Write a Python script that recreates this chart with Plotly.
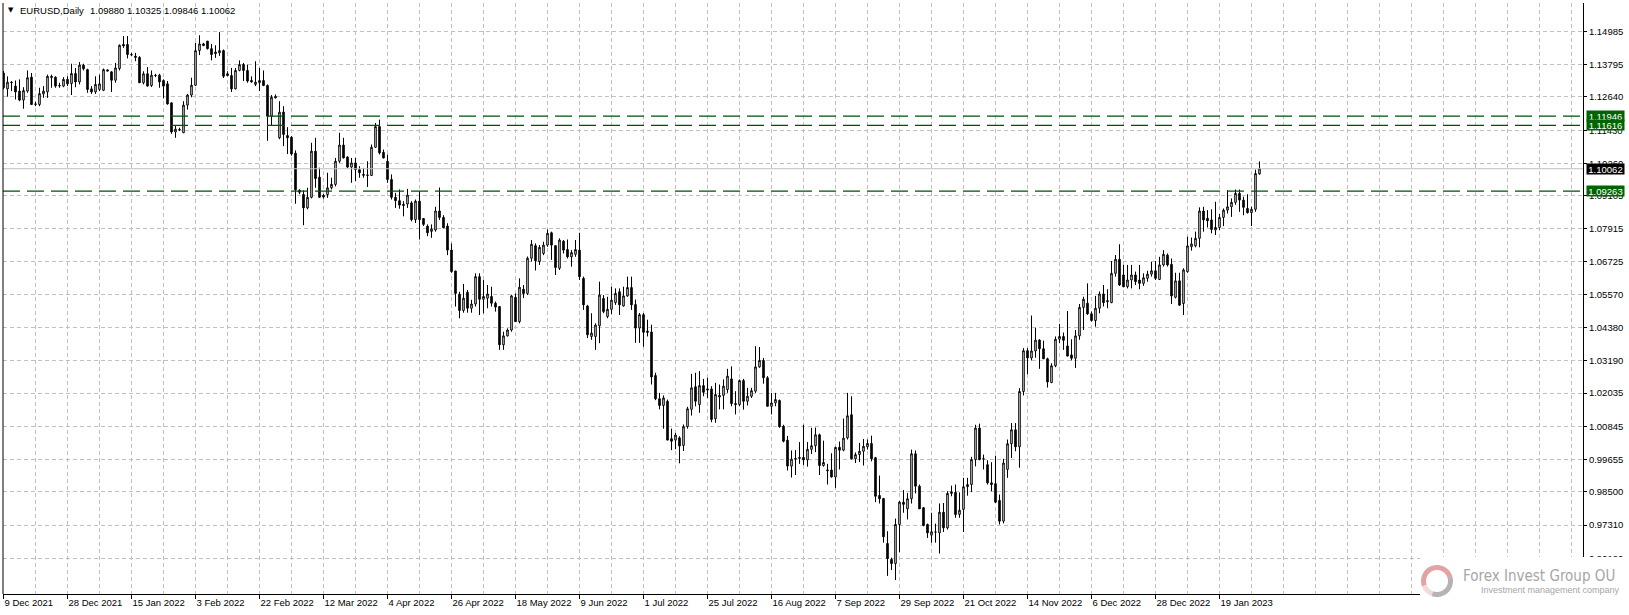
import math
import plotly.graph_objects as go

# ---------------- data (EURUSD, Daily) ----------------
open_ = [
1.1349,1.1292,1.1316,1.1302,1.1284,1.1252,1.1284,1.1334,1.1238,1.1236,
1.1274,1.1281,1.1332,1.1334,1.1304,1.1302,1.1326,1.1311,1.1347,1.1317,
1.1377,1.1361,1.1292,1.1281,1.1290,1.1287,1.1360,1.1353,1.1323,1.1365,
1.1451,1.1451,1.1415,1.1409,1.1405,1.1314,1.1346,1.1304,1.1341,1.1341,
1.1322,1.1310,1.1242,1.1138,1.1147,1.1135,1.1234,1.1270,1.1305,1.1429,
1.1453,1.1463,1.1436,1.1418,1.1421,1.1429,1.1346,1.1340,1.1292,1.1358,
1.1379,1.1358,1.1322,1.1308,1.1314,1.1322,1.1304,1.1194,1.1265,1.1117,
1.1209,1.1125,1.1119,1.1062,1.0929,1.0914,1.0866,1.0904,1.1069,1.0976,
1.0911,1.0914,1.0938,1.0950,1.1033,1.1091,1.1048,1.1012,1.1027,1.1003,
1.0986,1.0982,1.0982,1.1083,1.1157,1.1065,1.1033,1.0968,1.0904,1.0892,
1.0879,1.0880,1.0884,1.0824,1.0890,1.0828,1.0801,1.0782,1.0787,1.0855,
1.0832,1.0801,1.0715,1.0640,1.0557,1.0499,1.0564,1.0507,1.0522,1.0620,
1.0539,1.0543,1.0549,1.0525,1.0513,1.0376,1.0408,1.0429,1.0546,1.0459,
1.0575,1.0560,1.0686,1.0731,1.0674,1.0703,1.0733,1.0777,1.0731,1.0650,
1.0747,1.0717,1.0691,1.0700,1.0715,1.0614,1.0515,1.0406,1.0406,1.0444,
1.0542,1.0477,1.0503,1.0527,1.0566,1.0515,1.0551,1.0581,1.0520,1.0436,
1.0484,1.0425,1.0422,1.0266,1.0183,1.0159,1.0174,1.0040,1.0035,1.0043,
1.0016,1.0083,1.0145,1.0226,1.0162,1.0230,1.0214,1.0218,1.0111,1.0189,
1.0195,1.0216,1.0254,1.0166,1.0162,1.0248,1.0174,1.0192,1.0210,1.0297,
1.0320,1.0258,1.0156,1.0168,1.0177,1.0085,1.0035,0.9942,0.9967,0.9969,
0.9973,0.9964,1.0002,1.0015,1.0054,0.9944,0.9925,0.9928,0.9903,1.0009,
0.9999,1.0043,1.0126,0.9968,0.9983,0.9995,1.0011,1.0023,0.9972,0.9837,
0.9826,0.9665,0.9608,0.9593,0.9733,0.9813,0.9789,0.9825,0.9986,0.9870,
0.9793,0.9733,0.9695,0.9706,0.9703,0.9777,0.9721,0.9844,0.9848,0.9769,
0.9787,0.9868,0.9876,0.9965,1.0078,0.9967,0.9947,0.9882,0.9879,0.9819,
0.9745,0.9930,1.0022,1.0072,1.0011,1.0209,1.0355,1.0329,1.0354,1.0393,
1.0362,1.0326,1.0241,1.0301,1.0396,1.0406,1.0372,1.0340,1.0328,1.0408,
1.0510,1.0525,1.0487,1.0463,1.0507,1.0558,1.0530,1.0527,1.0632,1.0682,
1.0626,1.0584,1.0608,1.0626,1.0608,1.0596,1.0614,1.0629,1.0641,1.0610,
1.0662,1.0697,1.0664,1.0546,1.0605,1.0524,1.0638,1.0727,1.0730,1.0757,
1.0855,1.0829,1.0823,1.0787,1.0796,1.0832,1.0858,1.0870,1.0886,1.0918,
1.0894,1.0864,1.0849,1.0861,1.09880]

high = [
1.1356,1.1337,1.1320,1.1322,1.1326,1.1298,1.1358,1.1349,1.1246,1.1296,
1.1302,1.1343,1.1343,1.1337,1.1314,1.1334,1.1337,1.1382,1.1367,1.1388,
1.1382,1.1364,1.1302,1.1337,1.1343,1.1365,1.1362,1.1355,1.1385,1.1451,
1.1481,1.1481,1.1421,1.1421,1.1409,1.1355,1.1370,1.1358,1.1346,1.1346,
1.1326,1.1320,1.1243,1.1162,1.1153,1.1248,1.1274,1.1332,1.1457,1.1484,
1.1457,1.1463,1.1453,1.1448,1.1495,1.1433,1.1355,1.1367,1.1367,1.1394,
1.1385,1.1379,1.1337,1.1391,1.1367,1.1358,1.1308,1.1270,1.1272,1.1248,
1.1230,1.1155,1.1123,1.1072,1.0933,1.0929,1.0938,1.1099,1.1117,1.1010,
1.0916,1.0992,1.0974,1.1045,1.1135,1.1117,1.1051,1.1045,1.1045,1.1015,
1.1009,1.1033,1.1093,1.1170,1.1182,1.1075,1.1057,1.0986,1.0920,1.0932,
1.0890,1.0934,1.0890,1.0896,1.0926,1.0830,1.0807,1.0807,1.0870,1.0939,
1.0840,1.0811,1.0739,1.0641,1.0566,1.0594,1.0572,1.0537,1.0632,1.0632,
1.0608,1.0590,1.0584,1.0531,1.0515,1.0423,1.0435,1.0555,1.0560,1.0614,
1.0590,1.0692,1.0751,1.0739,1.0733,1.0745,1.0789,1.0781,1.0733,1.0757,
1.0751,1.0753,1.0715,1.0751,1.0777,1.0620,1.0519,1.0489,1.0453,1.0602,
1.0554,1.0548,1.0584,1.0578,1.0578,1.0584,1.0620,1.0620,1.0538,1.0490,
1.0490,1.0466,1.0448,1.0276,1.0204,1.0195,1.0180,1.0076,1.0061,1.0049,
1.0091,1.0154,1.0272,1.0276,1.0282,1.0254,1.0258,1.0228,1.0240,1.0234,
1.0252,1.0290,1.0299,1.0210,1.0252,1.0254,1.0222,1.0222,1.0371,1.0368,
1.0329,1.0264,1.0204,1.0204,1.0180,1.0090,1.0050,0.9998,0.9999,1.0028,
1.0090,1.0028,1.0079,1.0080,1.0058,1.0033,0.9950,0.9988,1.0011,1.0030,
1.0112,1.0204,1.0192,0.9991,1.0025,1.0039,1.0037,1.0051,0.9975,0.9908,
0.9828,0.9709,0.9614,0.9754,0.9817,0.9856,0.9846,1.0001,0.9998,0.9876,
0.9796,0.9736,0.9775,0.9736,0.9808,0.9810,0.9852,0.9872,0.9876,0.9848,
0.9900,0.9900,0.9975,1.0090,1.0094,0.9983,0.9963,0.9956,0.9979,0.9840,
0.9968,1.0037,1.0096,1.0096,1.0221,1.0364,1.0364,1.0481,1.0437,1.0396,
1.0391,1.0330,1.0310,1.0406,1.0451,1.0420,1.0497,1.0396,1.0429,1.0522,
1.0548,1.0596,1.0495,1.0551,1.0567,1.0590,1.0575,1.0676,1.0697,1.0736,
1.0662,1.0662,1.0662,1.0638,1.0662,1.0632,1.0641,1.0673,1.0676,1.0691,
1.0715,1.0703,1.0685,1.0634,1.0634,1.0650,1.0763,1.0760,1.0781,1.0868,
1.0870,1.0858,1.0861,1.0888,1.0844,1.0864,1.0930,1.0900,1.0932,1.0932,
1.0906,1.0915,1.0870,1.1003,1.10325]

low = [
1.1290,1.1264,1.1284,1.1254,1.1248,1.1221,1.1278,1.1236,1.1230,1.1230,
1.1260,1.1260,1.1296,1.1296,1.1296,1.1298,1.1302,1.1270,1.1298,1.1308,
1.1358,1.1278,1.1274,1.1274,1.1284,1.1284,1.1355,1.1281,1.1314,1.1358,
1.1439,1.1401,1.1409,1.1391,1.1313,1.1308,1.1301,1.1299,1.1334,1.1296,
1.1258,1.1236,1.1131,1.1117,1.1141,1.1134,1.1218,1.1262,1.1302,1.1413,
1.1445,1.1433,1.1394,1.1403,1.1410,1.1331,1.1337,1.1281,1.1290,1.1355,
1.1320,1.1314,1.1314,1.1302,1.1284,1.1302,1.1106,1.1162,1.1258,1.1112,
1.1087,1.1059,1.1053,1.0881,1.0915,1.0804,1.0861,1.0900,1.0938,1.0902,
1.0899,1.0902,1.0932,1.0943,1.1027,1.1043,1.1009,1.0956,1.0962,1.0974,
1.0974,1.0941,1.0980,1.1081,1.1057,1.1043,1.0956,1.0896,1.0866,1.0863,
1.0836,1.0866,1.0818,1.0812,1.0753,1.0801,1.0765,1.0759,1.0781,1.0823,
1.0793,1.0697,1.0634,1.0513,1.0471,1.0491,1.0491,1.0491,1.0513,1.0483,
1.0489,1.0507,1.0513,1.0495,1.0358,1.0358,1.0406,1.0423,1.0459,1.0453,
1.0543,1.0554,1.0674,1.0642,1.0662,1.0697,1.0727,1.0680,1.0626,1.0644,
1.0703,1.0685,1.0656,1.0691,1.0608,1.0501,1.0400,1.0394,1.0358,1.0382,
1.0489,1.0471,1.0486,1.0519,1.0483,1.0513,1.0548,1.0501,1.0383,1.0383,
1.0369,1.0406,1.0234,1.0178,1.0145,1.0076,1.0035,0.9999,1.0002,0.9952,
0.9996,1.0076,1.0123,1.0156,1.0133,1.0192,1.0186,1.0099,1.0097,1.0145,
1.0145,1.0204,1.0156,1.0127,1.0156,1.0144,1.0159,1.0186,1.0204,1.0294,
1.0237,1.0156,1.0127,1.0156,1.0079,1.0027,0.9926,0.9901,0.9910,0.9950,
0.9946,0.9940,0.9985,0.9992,0.9910,0.9940,0.9876,0.9901,0.9864,0.9930,
0.9995,1.0037,0.9966,0.9953,0.9956,0.9944,1.0001,0.9959,0.9813,0.9808,
0.9668,0.9549,0.9570,0.9534,0.9634,0.9775,0.9751,0.9808,0.9844,0.9789,
0.9727,0.9685,0.9668,0.9668,0.9629,0.9706,0.9715,0.9834,0.9757,0.9757,
0.9706,0.9836,0.9849,0.9941,0.9963,0.9930,0.9876,0.9852,0.9810,0.9733,
0.9737,0.9900,0.9971,0.9995,0.9936,1.0195,1.0271,1.0320,1.0330,1.0290,
1.0326,1.0223,1.0239,1.0296,1.0382,1.0358,1.0334,1.0320,1.0293,1.0394,
1.0429,1.0483,1.0459,1.0441,1.0489,1.0513,1.0507,1.0525,1.0620,1.0587,
1.0582,1.0578,1.0578,1.0590,1.0575,1.0587,1.0602,1.0620,1.0608,1.0608,
1.0656,1.0656,1.0522,1.0542,1.0515,1.0483,1.0634,1.0713,1.0725,1.0725,
1.0781,1.0796,1.0775,1.0769,1.0787,1.0801,1.0846,1.0834,1.0877,1.0852,
1.0840,1.0846,1.0801,1.0852,1.09846]

close = [
1.1296,1.1316,1.1315,1.1281,1.1252,1.1286,1.1332,1.1236,1.1237,1.1275,
1.1284,1.1337,1.1337,1.1302,1.1303,1.1326,1.1310,1.1347,1.1317,1.1377,
1.1364,1.1290,1.1281,1.1308,1.1310,1.1361,1.1356,1.1323,1.1367,1.1448,
1.1446,1.1415,1.1414,1.1405,1.1314,1.1346,1.1302,1.1341,1.1340,1.1317,
1.1302,1.1238,1.1138,1.1148,1.1146,1.1234,1.1270,1.1305,1.1429,1.1453,
1.1447,1.1436,1.1415,1.1424,1.1429,1.1337,1.1340,1.1292,1.1358,1.1379,
1.1358,1.1320,1.1317,1.1316,1.1322,1.1304,1.1194,1.1262,1.1260,1.1209,
1.1129,1.1117,1.1059,1.0931,1.0922,1.0866,1.0904,1.1069,1.0971,1.0904,
1.0905,1.0938,1.0950,1.1033,1.1091,1.1045,1.1012,1.1027,1.1003,1.0992,
1.0983,1.0984,1.1083,1.1157,1.1063,1.1045,1.0968,1.0904,1.0892,1.0876,
1.0875,1.0912,1.0824,1.0890,1.0824,1.0807,1.0777,1.0790,1.0855,1.0832,
1.0795,1.0715,1.0638,1.0560,1.0499,1.0543,1.0507,1.0522,1.0620,1.0539,
1.0549,1.0558,1.0525,1.0511,1.0376,1.0408,1.0429,1.0551,1.0459,1.0582,
1.0560,1.0686,1.0736,1.0677,1.0725,1.0733,1.0775,1.0733,1.0653,1.0751,
1.0715,1.0691,1.0706,1.0717,1.0620,1.0519,1.0412,1.0418,1.0447,1.0554,
1.0495,1.0503,1.0536,1.0560,1.0519,1.0551,1.0581,1.0519,1.0436,1.0484,
1.0421,1.0421,1.0261,1.0183,1.0159,1.0186,1.0035,1.0031,1.0053,1.0014,
1.0083,1.0147,1.0222,1.0174,1.0230,1.0206,1.0218,1.0109,1.0198,1.0195,
1.0228,1.0264,1.0166,1.0162,1.0248,1.0174,1.0192,1.0212,1.0297,1.0320,
1.0258,1.0156,1.0168,1.0180,1.0083,1.0031,0.9942,0.9967,0.9969,0.9973,
0.9964,1.0002,1.0015,1.0054,0.9944,0.9955,0.9928,0.9903,1.0009,0.9999,
1.0042,1.0122,0.9968,0.9983,0.9995,1.0013,1.0023,0.9968,0.9834,0.9825,
0.9689,0.9611,0.9593,0.9733,0.9813,0.9805,0.9825,0.9986,0.9870,0.9789,
0.9729,0.9703,0.9707,0.9706,0.9777,0.9721,0.9844,0.9850,0.9769,0.9784,
0.9868,0.9876,0.9965,1.0078,0.9965,0.9968,0.9882,0.9876,0.9813,0.9745,
0.9953,1.0022,1.0072,1.0011,1.0209,1.0355,1.0329,1.0354,1.0393,1.0362,
1.0326,1.0243,1.0301,1.0396,1.0406,1.0392,1.0336,1.0328,1.0408,1.0510,
1.0539,1.0487,1.0463,1.0507,1.0558,1.0527,1.0534,1.0632,1.0682,1.0590,
1.0584,1.0608,1.0626,1.0602,1.0596,1.0616,1.0629,1.0641,1.0614,1.0662,
1.0700,1.0662,1.0551,1.0605,1.0518,1.0644,1.0730,1.0737,1.0757,1.0855,
1.0823,1.0820,1.0789,1.0796,1.0832,1.0858,1.0870,1.0886,1.0918,1.0894,
1.0868,1.0849,1.0861,1.0989,1.10062]

date_labels = ["9 Dec 2021", "28 Dec 2021", "15 Jan 2022", "3 Feb 2022", "22 Feb 2022",
               "12 Mar 2022", "4 Apr 2022", "26 Apr 2022", "18 May 2022", "9 Jun 2022",
               "1 Jul 2022", "25 Jul 2022", "16 Aug 2022", "7 Sep 2022", "29 Sep 2022",
               "21 Oct 2022", "14 Nov 2022", "6 Dec 2022", "28 Dec 2022", "19 Jan 2023"]
date_label_bars = [0, 16, 32, 48, 64, 80, 96, 112, 128, 144, 160, 176, 192, 208, 224,
                   240, 256, 272, 288, 304]

price_ticks = [1.14985, 1.13795, 1.12640, 1.11430, 1.10260, 1.09105, 1.07915, 1.06725,
               1.05570, 1.04380, 1.03190, 1.02035, 1.00845, 0.99655, 0.98500, 0.97310,
               0.96120]
level_lines = [1.11946, 1.11616, 1.09263]
current_price = 1.10062
title_values = "1.09880 1.10325 1.09846 1.10062"

assert len(open_) == len(high) == len(low) == len(close)
bars = list(range(len(close)))

# ---------------- geometry helpers ----------------
W, H = 1629, 615
ML, MR, MT, MB = 3, 46, 3, 21
PW, PH = W - ML - MR, H - MT - MB


def px_x(px):
    return (px - ML) / PW


def px_y(py):
    return (H - MB - py) / PH


FONT = "Liberation Sans, Arial, sans-serif"
GRID = "#C0C0C0"
LEVEL_GREEN = "#005200"
BOX_GREEN = "#006400"

fig = go.Figure()
fig.add_trace(go.Candlestick(
    x=bars, open=open_, high=high, low=low, close=close,
    increasing=dict(fillcolor="white", line=dict(color="black", width=1)),
    decreasing=dict(fillcolor="black", line=dict(color="black", width=1)),
    whiskerwidth=0, showlegend=False, hoverinfo="skip",
))

shapes = []
for lv in level_lines:
    shapes.append(dict(type="line", xref="paper", x0=0, x1=1, yref="y", y0=lv, y1=lv,
                       line=dict(color=LEVEL_GREEN, width=1.2, dash="17px,7px"), layer="above"))
shapes.append(dict(type="line", xref="paper", x0=0, x1=1, yref="y", y0=current_price,
                   y1=current_price, line=dict(color="#BEBEBE", width=1), layer="above"))
shapes.append(dict(type="line", xref="paper", yref="paper", x0=0, x1=0, y0=0, y1=1,
                   line=dict(color="black", width=1)))

# logo box
shapes.append(dict(type="rect", xref="paper", yref="paper",
                   x0=px_x(1420), x1=px_x(1629), y0=px_y(615), y1=px_y(557),
                   fillcolor="white", line=dict(width=0), layer="above"))


def ring(cx, cy, r_out, r_in, a0, a1, n=24):
    pts = []
    for k in range(n + 1):
        a = math.radians(a0 + (a1 - a0) * k / n)
        pts.append((cx + r_out * math.cos(a), cy - r_out * math.sin(a)))
    for k in range(n + 1):
        a = math.radians(a1 - (a1 - a0) * k / n)
        pts.append((cx + r_in * math.cos(a), cy - r_in * math.sin(a)))
    return "M " + " L ".join(f"{px_x(x):.5f},{px_y(y):.5f}" for x, y in pts) + " Z"


for a0, a1, col in [(15, 200, "#E3A3A3"), (200, 250, "#F2DADA"), (250, 375, "#B4B4B4")]:
    shapes.append(dict(type="path", xref="paper", yref="paper", path=ring(1437, 581, 16, 11, a0, a1),
                       fillcolor=col, line=dict(width=0), layer="above"))

annotations = []
annotations.append(dict(xref="paper", yref="paper", x=px_x(6), y=px_y(10), xanchor="left",
                        yanchor="middle", text="▼", showarrow=False,
                        font=dict(family="DejaVu Sans", size=7, color="black")))
annotations.append(dict(xref="paper", yref="paper", x=px_x(18), y=px_y(10), xanchor="left",
                        yanchor="middle", text="EURUSD,Daily", showarrow=False,
                        font=dict(family=FONT, size=9.5, color="black")))
annotations.append(dict(xref="paper", yref="paper", x=px_x(88), y=px_y(10), xanchor="left",
                        yanchor="middle", text=title_values, showarrow=False,
                        font=dict(family=FONT, size=9.5, color="black")))
for lv in level_lines:
    annotations.append(dict(xref="paper", yref="y", x=px_x(1586), y=lv, xanchor="left",
                            yanchor="middle", text=f"{lv:.5f}", showarrow=False,
                            bgcolor=BOX_GREEN, width=37, height=10, borderpad=0,
                            font=dict(family=FONT, size=9.5, color="white")))
annotations.append(dict(xref="paper", yref="y", x=px_x(1586), y=current_price, xanchor="left",
                        yanchor="middle", text=f"{current_price:.5f}", showarrow=False,
                        bgcolor="black", width=37, height=10, borderpad=0,
                        font=dict(family=FONT, size=9.5, color="white")))
annotations.append(dict(xref="paper", yref="paper", x=px_x(1461), y=px_y(576), xanchor="left",
                        yanchor="middle", text="Forex Invest Group OU", showarrow=False,
                        font=dict(family="Liberation Sans Narrow, DejaVu Sans Condensed, sans-serif",
                                  size=15, color="#A6A6A6")))
annotations.append(dict(xref="paper", yref="paper", x=px_x(1479), y=px_y(590), xanchor="left",
                        yanchor="middle", text="Investment management company", showarrow=False,
                        font=dict(family=FONT, size=9, color="#A6A6A6")))

fig.update_layout(
    width=W, height=H,
    margin=dict(l=ML, r=MR, t=MT, b=MB, pad=0),
    paper_bgcolor="white", plot_bgcolor="white",
    showlegend=False, boxgap=0.45,
    shapes=shapes, annotations=annotations,
    font=dict(family=FONT, size=9.5, color="black"),
)
fig.update_xaxes(
    range=[-0.125, -0.125 + PW / 4], rangeslider=dict(visible=False),
    tickmode="array", tickvals=date_label_bars, ticktext=date_labels,
    ticks="outside", ticklen=4, tickcolor="black", ticklabelposition="outside right",
    showline=True, linecolor="black", linewidth=1, zeroline=False,
    showgrid=True, gridcolor=GRID, griddash="4px,3px", gridwidth=1,
    minor=dict(tickmode="linear", tick0=0, dtick=8, showgrid=True, gridcolor=GRID,
               griddash="4px,3px", ticks=""),
    tickfont=dict(family=FONT, size=9.5, color="black"),
)
fig.update_yaxes(
    side="right", range=[0.94842, 1.15994],
    tickmode="array", tickvals=price_ticks, ticktext=[f"{v:.5f}" for v in price_ticks],
    ticks="outside", ticklen=3, tickcolor="black",
    showline=True, linecolor="black", linewidth=1, zeroline=False,
    showgrid=True, gridcolor=GRID, griddash="4px,3px", gridwidth=1,
    tickfont=dict(family=FONT, size=9.5, color="black"),
)

fig.write_html("out.html", config={"displayModeBar": False},
               post_script="document.body.style.margin='0px';")
